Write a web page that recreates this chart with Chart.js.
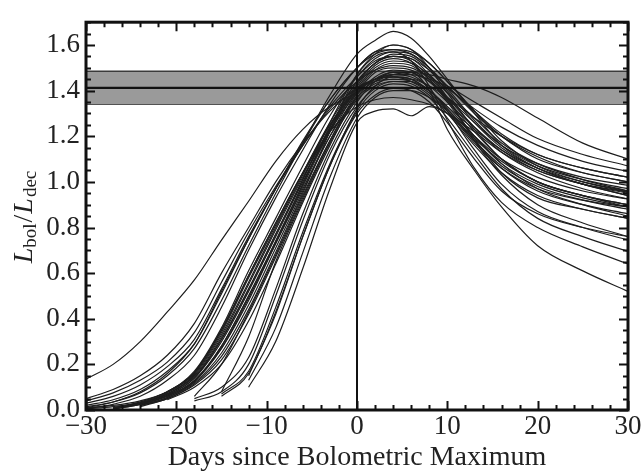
<!DOCTYPE html>
<html>
<head>
<meta charset="utf-8">
<script src="https://cdn.jsdelivr.net/npm/chart.js@4.4.1/dist/chart.umd.min.js"></script>
<style>
  html, body { margin: 0; padding: 0; background: #fff; }
  #wrap { width: 643px; height: 474px; }
</style>
</head>
<body>
<div id="wrap"><canvas id="lc" width="643" height="474"></canvas></div>
<script>
// sample days shared by every light curve
const days = [-30,-27,-24,-21,-18,-15,-12,-9,-6,-3,0,2,4,6,8,10,13,16,20,25,30];

// L_bol / L_dec, one array per object (null = no data yet)
const c01 = [0.135,0.20,0.30,0.43,0.57,0.745,0.915,1.09,1.23,1.33,1.39, 1.44,1.47,1.48,1.47, 1.45,1.42,1.37,1.28,1.17,1.10];
const c02 = [0.05,0.09,0.15,0.24,0.38,0.60,0.80,1.00,1.17,1.31,1.41, 1.45,1.47,1.47,1.45, 1.42,1.35,1.28,1.19,1.12,1.07];
const c03 = [0.04,0.075,0.13,0.21,0.34,0.56,0.78,0.98,1.16,1.32,1.44, 1.49,1.51,1.50,1.46, 1.41,1.32,1.24,1.16,1.09,1.045];
const c04 = [0.03,0.06,0.11,0.19,0.31,0.53,0.76,0.97,1.16,1.33,1.46, 1.53,1.55,1.54,1.49, 1.42,1.31,1.21,1.12,1.06,1.02];
const c05 = [0.02,0.045,0.09,0.17,0.29,0.51,0.75,0.97,1.18,1.36,1.50, 1.56,1.58,1.56,1.50, 1.42,1.30,1.20,1.10,1.04,1.00];
const c06 = [0.014,0.035,0.075,0.15,0.27,0.48,0.72,0.95,1.17,1.38,1.56, 1.62,1.66,1.63,1.55, 1.45,1.30,1.16,1.06,0.99,0.95];
const c07 = [0.005,0.025,0.06,0.13,0.24,0.45,0.70,0.93,1.14,1.34,1.50, 1.57,1.60,1.58,1.52, 1.44,1.31,1.18,1.07,1.00,0.955];
const c08 = [0.005,0.015,0.035,0.08,0.17,0.36,0.61,0.84,1.07,1.29,1.46, 1.54,1.57,1.56,1.50, 1.41,1.27,1.16,1.07,1.01,0.97];
const c09 = [null,0.01,0.03,0.075,0.16,0.34,0.58,0.81,1.04,1.26,1.44, 1.52,1.56,1.55,1.49, 1.40,1.26,1.15,1.06,0.99,0.94];
const c10 = [null,0.005,0.03,0.07,0.145,0.31,0.53,0.77,1.01,1.24,1.43, 1.52,1.55,1.53,1.46, 1.37,1.24,1.13,1.04,0.97,0.925];
const c11 = [null,0.005,0.025,0.06,0.13,0.28,0.50,0.74,0.99,1.23,1.42, 1.51,1.54,1.52,1.45, 1.35,1.20,1.08,0.99,0.93,0.89];
const c12 = [null,0.003,0.03,0.07,0.15,0.32,0.55,0.79,1.02,1.23,1.41, 1.50,1.53,1.52,1.47, 1.39,1.28,1.17,1.08,1.01,0.96];
const c13 = [null,null,0.02,0.055,0.12,0.25,0.46,0.71,0.96,1.20,1.40, 1.49,1.52,1.51,1.45, 1.36,1.22,1.10,1.00,0.94,0.90];
const c14 = [null,null,0.015,0.05,0.11,0.22,0.42,0.67,0.93,1.18,1.39, 1.48,1.50,1.49,1.44, 1.36,1.19,1.04,0.93,0.88,0.84];
const c15 = [null,null,null,0.045,0.10,0.20,0.39,0.64,0.91,1.16,1.38, 1.46,1.49,1.48,1.44, 1.37,1.26,1.16,1.08,1.02,0.985];
const c16 = [null,null,null,null,0.06,0.20,0.43,0.68,0.94,1.18,1.37, 1.45,1.48,1.47,1.41, 1.31,1.14,0.99,0.87,0.80,0.745];
const c17 = [null,null,0.025,0.065,0.14,0.30,0.52,0.76,1.00,1.22,1.39, 1.45,1.47,1.46,1.42, 1.35,1.24,1.14,1.05,0.99,0.94];
const c18 = [0.01,0.02,0.04,0.08,0.165,0.35,0.59,0.82,1.04,1.25,1.40, 1.45,1.46,1.45,1.40, 1.32,1.20,1.10,1.02,0.96,0.925];
const c19 = [null,null,null,0.06,0.125,0.27,0.48,0.73,0.97,1.20,1.37, 1.43,1.45,1.44,1.40, 1.33,1.23,1.14,1.06,1.00,0.96];
const c20 = [null,null,null,null,null,0.08,0.32,0.65,0.92,1.17,1.36, 1.42,1.44,1.43,1.38, 1.30,1.16,1.04,0.94,0.88,0.84];
const c21 = [null,0.01,0.03,0.07,0.155,0.33,0.56,0.80,1.03,1.25,1.41, 1.45,1.46,1.44,1.39, 1.31,1.17,1.06,0.97,0.92,0.89];
const c22 = [null,null,0.025,0.06,0.13,0.27,0.49,0.73,0.98,1.22,1.40, 1.44,1.45,1.45,1.42, 1.37,1.28,1.20,1.12,1.06,1.02];
const c23 = [null,null,null,null,0.04,0.08,0.20,0.50,0.83,1.12,1.33, 1.41,1.44,1.44,1.40, 1.33,1.20,1.08,0.97,0.90,0.85];
const c24 = [null,null,null,null,null,0.07,0.17,0.45,0.78,1.08,1.31, 1.40,1.43,1.42,1.37, 1.28,1.12,0.97,0.84,0.76,0.695];
const c25 = [null,null,null,null,null,null,0.13,0.36,0.69,1.02,1.28, 1.37,1.40,1.40,1.37, 1.31,1.19,1.09,1.00,0.94,0.90];
const c26 = [null,null,null,null,null,null,0.10,0.30,0.62,0.97,1.26, 1.31,1.32,1.29,1.33, 1.30,1.18,1.07,0.98,0.92,0.88];
const c27 = [null,null,null,null,null,0.06,0.16,0.43,0.76,1.07,1.30, 1.38,1.41,1.40,1.35, 1.26,1.10,0.96,0.86,0.80,0.76];
const c28 = [null,null,null,null,0.05,0.10,0.23,0.53,0.86,1.14,1.35, 1.44,1.48,1.48,1.40, 1.23,1.05,0.89,0.72,0.61,0.52];
const c29 = [0.01,0.035,0.08,0.16,0.29,0.52,0.75,0.97,1.17,1.36,1.50, 1.57,1.58,1.57,1.52, 1.44,1.31,1.20,1.11,1.04,1.00];
const c30 = [null,0.005,0.025,0.065,0.14,0.31,0.53,0.77,1.01,1.26,1.47, 1.55,1.57,1.53,1.42, 1.27,1.06,0.91,0.80,0.715,0.64];
const c31 = [null,null,0.02,0.05,0.115,0.235,0.44,0.69,0.95,1.22,1.47, 1.56,1.60,1.58,1.50, 1.39,1.23,1.10,1.00,0.94,0.89];
const c32 = [null,null,null,null,null,null,0.15,0.42,0.76,1.07,1.32, 1.42,1.46,1.45,1.40, 1.32,1.18,1.06,0.96,0.90,0.86];
const c33 = [null,0.008,0.035,0.08,0.165,0.35,0.59,0.82,1.04,1.22,1.33, 1.36,1.37,1.36,1.34, 1.30,1.22,1.13,1.05,0.99,0.955];
const c34 = [null,null,0.02,0.055,0.125,0.28,0.50,0.74,0.99,1.24,1.44, 1.52,1.55,1.54,1.47, 1.37,1.18,1.03,0.90,0.82,0.76];

const curves = [c01,c02,c03,c04,c05,c06,c07,c08,c09,c10,c11,c12,c13,c14,c15,c16,c17,
                c18,c19,c20,c21,c22,c23,c24,c25,c26,c27,c28,c29,c30,c31,c32,c33,c34];

// mean ratio and its spread (grey band)
const bandLow = 1.34;
const bandMid = 1.412;
const bandHigh = 1.485;

const xMin = -30, xMax = 30, xStep = 10;
const yMin = 0, yMax = 1.7, yStep = 0.2;

const serif = '"Liberation Serif"';

function flat(y) {
  return [{x: xMin, y: y}, {x: xMax, y: y}];
}

const curveSets = curves.map((vals, i) => ({
  label: 'SN ' + (i + 1),
  data: days.map((d, j) => ({x: d, y: vals[j]})).filter(p => p.y !== null),
  borderColor: '#1e1e1e',
  borderWidth: 1.2,
  pointRadius: 0,
  cubicInterpolationMode: 'monotone',
  fill: false,
  order: 5
}));

const extraSets = [
  { label: 'band', data: flat(bandHigh), borderColor: '#3a3a3a', borderWidth: 1.3,
    backgroundColor: '#9a9a9a', fill: {value: bandLow}, pointRadius: 0, order: 10 },
  { label: 'band low', data: flat(bandLow), borderColor: '#3a3a3a', borderWidth: 1.3,
    fill: false, pointRadius: 0, order: 10 },
  { label: 'mean', data: flat(bandMid), borderColor: '#111', borderWidth: 2.2,
    fill: false, pointRadius: 0, order: 1 },
  { label: 'max', data: [{x: 0, y: yMin}, {x: 0, y: yMax}], borderColor: '#111', borderWidth: 2,
    fill: false, pointRadius: 0, order: 1 }
];

// closed frame, inward ticks on all four sides, and the y-axis label with subscripts
const framePlugin = {
  id: 'frame',
  afterDraw(chart) {
    const ctx = chart.ctx;
    const a = chart.chartArea;
    const x = chart.scales.x;
    const y = chart.scales.y;
    ctx.save();
    ctx.strokeStyle = '#111';
    ctx.lineWidth = 2;
    ctx.beginPath();
    const xMajor = x.ticks.map(t => t.value);
    for (let v = x.min; v <= x.max + 1e-9; v += xStep / 5) {
      const px = Math.round(x.getPixelForValue(v)) + 0.5;
      const len = xMajor.some(m => Math.abs(m - v) < 1e-6) ? 9 : 5;
      ctx.moveTo(px, a.bottom); ctx.lineTo(px, a.bottom - len);
      ctx.moveTo(px, a.top); ctx.lineTo(px, a.top + len);
    }
    const yMajor = y.ticks.map(t => t.value);
    for (let v = y.min; v <= y.max + 1e-9; v += yStep / 4) {
      const py = Math.round(y.getPixelForValue(v)) + 0.5;
      const len = yMajor.some(m => Math.abs(m - v) < 1e-6) ? 9 : 5;
      ctx.moveTo(a.left, py); ctx.lineTo(a.left + len, py);
      ctx.moveTo(a.right, py); ctx.lineTo(a.right - len, py);
    }
    ctx.stroke();
    ctx.lineWidth = 3;
    ctx.strokeRect(a.left, a.top, a.right - a.left, a.bottom - a.top);

    // y title: L_bol/L_dec
    const parts = [
      {t: 'L', f: 'italic 28px ' + serif, dy: 0, gap: 0},
      {t: 'bol', f: '19px ' + serif, dy: 4, gap: 1},
      {t: '/', f: '28px ' + serif, dy: 0, gap: 1},
      {t: 'L', f: 'italic 28px ' + serif, dy: 0, gap: 1},
      {t: 'dec', f: '19px ' + serif, dy: 4, gap: 0}
    ];
    let total = 0;
    parts.forEach(p => { ctx.font = p.f; p.w = ctx.measureText(p.t).width + p.gap; total += p.w; });
    ctx.translate(32, 217);
    ctx.rotate(-Math.PI / 2);
    ctx.fillStyle = '#222';
    ctx.textBaseline = 'alphabetic';
    let cx = -total / 2;
    parts.forEach(p => { ctx.font = p.f; ctx.fillText(p.t, cx, p.dy); cx += p.w; });
    ctx.restore();
  }
};

function drawChart() {
  new Chart(document.getElementById('lc'), {
    type: 'line',
    data: { datasets: extraSets.concat(curveSets) },
    options: {
      responsive: false,
      animation: false,
      devicePixelRatio: 1,
      layout: { padding: { left: 0, right: 15, top: 6, bottom: 0 } },
      plugins: { legend: { display: false }, tooltip: { enabled: false } },
      scales: {
        x: {
          type: 'linear', min: xMin, max: xMax,
          grid: { display: false, drawTicks: false },
          border: { display: false },
          ticks: {
            stepSize: xStep, padding: 1, color: '#222', maxRotation: 0, autoSkip: false,
            font: { family: serif, size: 27 },
            callback: v => v < 0 ? '\u2212' + Math.abs(v) : String(v)
          },
          title: {
            display: true, text: 'Days since Bolometric Maximum', color: '#222',
            font: { family: serif, size: 28 }, padding: { top: 0, bottom: 0 }
          },
          afterFit: s => { s.height = 64; }
        },
        y: {
          min: yMin, max: yMax,
          grid: { display: false, drawTicks: false },
          border: { display: false },
          ticks: {
            stepSize: yStep, includeBounds: false, padding: 6, color: '#222',
            font: { family: serif, size: 27 },
            callback: v => v.toFixed(1)
          },
          afterFit: s => { s.width = 86; }
        }
      }
    },
    plugins: [framePlugin]
  });
}

Promise.all([
  document.fonts.load('28px "Liberation Serif"'),
  document.fonts.load('italic 28px "Liberation Serif"')
]).then(drawChart, drawChart);
</script>
</body>
</html>
